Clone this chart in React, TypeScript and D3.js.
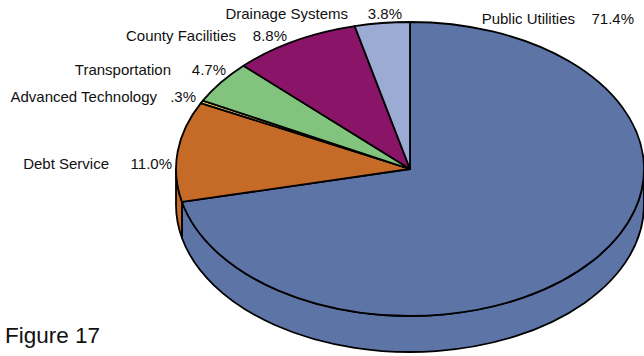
import React from "react";
import * as d3 from "d3";

const categories = [
  "Public Utilities",
  "Debt Service",
  "Advanced Technology",
  "Transportation",
  "County Facilities",
  "Drainage Systems",
];
const values = [71.4, 11.0, 0.3, 4.7, 8.8, 3.8];
const pctLabels = ["71.4%", "11.0%", ".3%", "4.7%", "8.8%", "3.8%"];
const colors = ["#5d74a7", "#c56a27", "#ecd06a", "#82c37e", "#8a1467", "#9babd3"];
// label layout: [end x of name, end x of percent, baseline y]
const labelLayout: [number, number, number][] = [
  [575, 634, 24],
  [109, 172, 169],
  [157, 196, 102],
  [171, 226, 75],
  [236, 287, 41],
  [348, 402, 19],
];
const title = "Figure 17";

const W = 644;
const H = 356;
const cx = 410;
const cy = 169;
const rx = 234;
const ry = 147;
const depth = 36;

function pt(a: number, dy = 0): [number, number] {
  return [cx + rx * Math.sin(a), cy - ry * Math.cos(a) + dy];
}

export default function App() {
  const pie = d3
    .pie<number>()
    .sort(null)
    .startAngle(0)
    .endAngle(2 * Math.PI)
    .value((d) => d);
  const arcs = pie(values);

  const topPath = (a0: number, a1: number) => {
    const [x0, y0] = pt(a0);
    const [x1, y1] = pt(a1);
    const large = a1 - a0 > Math.PI ? 1 : 0;
    return `M${cx},${cy}L${x0},${y0}A${rx},${ry} 0 ${large} 1 ${x1},${y1}Z`;
  };

  const wallPath = (s: number, e: number) => {
    const a0 = Math.max(s, Math.PI / 2);
    const a1 = Math.min(e, (3 * Math.PI) / 2);
    if (a1 <= a0) return null;
    const [x0, y0] = pt(a0);
    const [x1, y1] = pt(a1);
    const [bx1, by1] = pt(a1, depth);
    const [bx0, by0] = pt(a0, depth);
    return `M${x0},${y0}A${rx},${ry} 0 0 1 ${x1},${y1}L${bx1},${by1}A${rx},${ry} 0 0 0 ${bx0},${by0}Z`;
  };

  const font = "'Liberation Sans', Arial, Helvetica, sans-serif";

  return (
    <svg
      width={W}
      height={H}
      style={{ position: "absolute", left: 0, top: 0, background: "#fff" }}
    >
      <g stroke="#000" strokeWidth={1.8} strokeLinejoin="round">
        {arcs.map((a, i) => {
          const d = wallPath(a.startAngle, a.endAngle);
          return d ? <path key={"w" + i} d={d} fill={colors[i]} /> : null;
        })}
        {arcs.map((a, i) => (
          <path key={"t" + i} d={topPath(a.startAngle, a.endAngle)} fill={colors[i]} />
        ))}
      </g>
      <g fontFamily={font} fontSize={15} fill="#111">
        {categories.map((c, i) => (
          <g key={"l" + i}>
            <text x={labelLayout[i][0]} y={labelLayout[i][2]} textAnchor="end">
              {c}
            </text>
            <text x={labelLayout[i][1]} y={labelLayout[i][2]} textAnchor="end">
              {pctLabels[i]}
            </text>
          </g>
        ))}
      </g>
      <text x={5} y={343} fontFamily={font} fontSize={22.5} fill="#111">
        {title}
      </text>
    </svg>
  );
}
